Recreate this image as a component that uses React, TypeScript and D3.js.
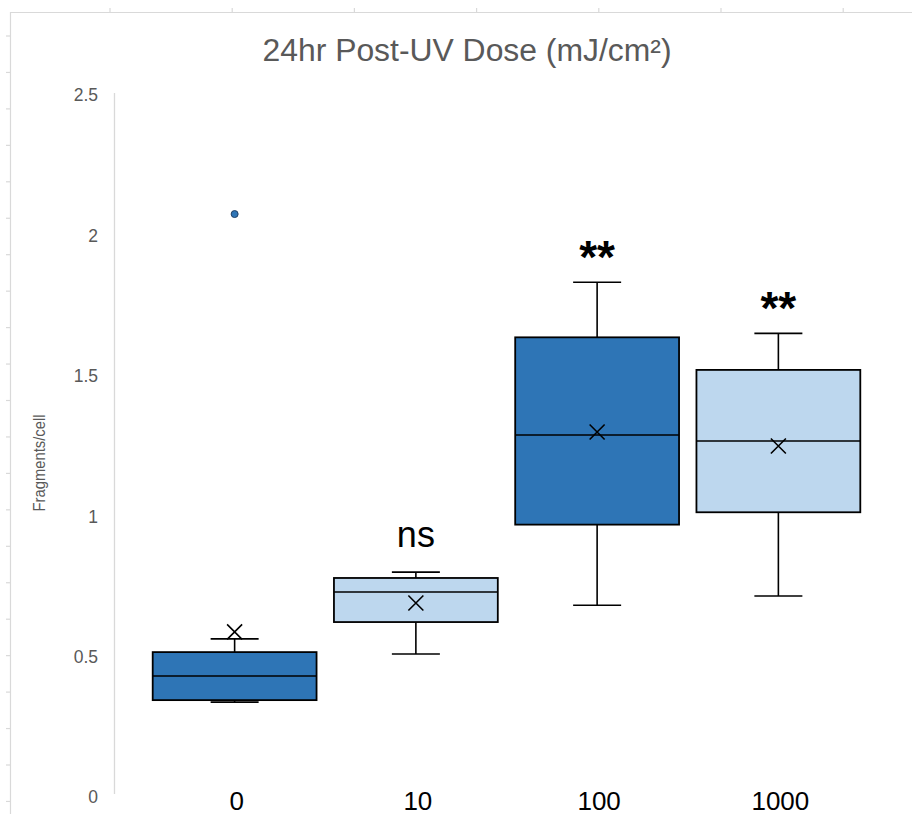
import React from "react";
import * as d3 from "d3";

// Dose groups (mJ/cm²) and their five-number summaries of fragments per cell
const categories = ["0", "10", "100", "1000"];
const minValues = [0.338, 0.509, 0.683, 0.716];
const q1Values = [0.345, 0.623, 0.97, 1.014];
const medianValues = [0.431, 0.73, 1.289, 1.268];
const q3Values = [0.516, 0.78, 1.637, 1.521];
const maxValues = [0.563, 0.801, 1.833, 1.651];
const meanValues = [0.588, 0.691, 1.3, 1.25];
const outlierCategories = ["0"];
const outlierValues = [2.076];
const significance = ["", "ns", "**", "**"];
const yTicks = [0, 0.5, 1, 1.5, 2, 2.5];

const DARK = "#2E75B6";
const LIGHT = "#BDD7EE";
const boxFills = [DARK, LIGHT, DARK, LIGHT];

const W = 912;
const H = 814;

export default function App() {
  const x = d3
    .scaleBand<string>()
    .domain(categories)
    .range([144, 869])
    .paddingInner(0.096)
    .paddingOuter(0.048);
  const y = d3.scaleLinear().domain([0, 2.5]).range([797, 95]);
  const bw = x.bandwidth();
  const capHalf = 24;
  const xs = 7.5;

  // spreadsheet-style ruler marks along the top and left edges
  const rulerTop = d3.range(110, W, 122.2);
  const rulerLeft = d3.range(36, H, 36.45);

  return (
    <svg
      width={W}
      height={H}
      style={{ position: "absolute", left: 0, top: 0, background: "#fff" }}
      fontFamily="'Liberation Sans', Arial, sans-serif"
    >
      <rect width={W} height={H} fill="#fff" />
      {/* ruler frame */}
      <g stroke="#d9d9d9" strokeWidth={1.2}>
        <line x1={10} y1={12.5} x2={W} y2={12.5} />
        <line x1={10.5} y1={12} x2={10.5} y2={H} />
        {rulerTop.map((t) => (
          <line key={"rt" + t} x1={t} y1={8} x2={t} y2={12} />
        ))}
        {rulerLeft.map((t) => (
          <line key={"rl" + t} x1={6} y1={t} x2={10} y2={t} />
        ))}
      </g>

      {/* title */}
      <text
        x={467}
        y={61}
        textAnchor="middle"
        fontSize={31}
        fill="#595959"
        fontWeight={300}
        textLength={409}
        lengthAdjust="spacingAndGlyphs"
      >
        24hr Post-UV Dose (mJ/cm²)
      </text>

      {/* y axis */}
      <line x1={114.5} y1={93} x2={114.5} y2={794} stroke="#d9d9d9" strokeWidth={1.3} />
      {yTicks.map((t) => (
        <text
          key={"yt" + t}
          x={98}
          y={y(t)}
          dy="0.36em"
          textAnchor="end"
          fontSize={17.5}
          fill="#595959"
        >
          {t}
        </text>
      ))}
      <text
        transform={`translate(45,${463}) rotate(-90)`}
        textAnchor="middle"
        fontSize={16}
        fill="#595959"
        textLength={97}
        lengthAdjust="spacingAndGlyphs"
      >
        Fragments/cell
      </text>

      {/* x labels */}
      {categories.map((c) => (
        <text
          key={"xl" + c}
          x={x(c)! + bw / 2 + 2}
          y={809.5}
          textAnchor="middle"
          fontSize={26}
          fill="#000"
        >
          {c}
        </text>
      ))}

      {/* boxes */}
      {categories.map((c, i) => {
        const cx = x(c)! + bw / 2;
        const x0 = x(c)!;
        return (
          <g key={"box" + c} stroke="#000" strokeWidth={1.6}>
            <line x1={cx} x2={cx} y1={y(maxValues[i])} y2={y(q3Values[i])} />
            <line x1={cx} x2={cx} y1={y(q1Values[i])} y2={y(minValues[i])} />
            <line x1={cx - capHalf} x2={cx + capHalf} y1={y(maxValues[i])} y2={y(maxValues[i])} />
            <line x1={cx - capHalf} x2={cx + capHalf} y1={y(minValues[i])} y2={y(minValues[i])} />
            <rect
              x={x0}
              y={y(q3Values[i])}
              width={bw}
              height={y(q1Values[i]) - y(q3Values[i])}
              fill={boxFills[i]}
              strokeWidth={1.8}
            />
            <line x1={x0} x2={x0 + bw} y1={y(medianValues[i])} y2={y(medianValues[i])} />
            <path
              d={`M${cx - xs},${y(meanValues[i]) - xs}L${cx + xs},${y(meanValues[i]) + xs}M${cx - xs},${
                y(meanValues[i]) + xs
              }L${cx + xs},${y(meanValues[i]) - xs}`}
              fill="none"
            />
          </g>
        );
      })}

      {/* outliers */}
      {outlierValues.map((v, i) => (
        <circle
          key={"o" + i}
          cx={x(outlierCategories[i])! + bw / 2}
          cy={y(v)}
          r={3.5}
          fill={DARK}
          stroke="#1f3f66"
          strokeWidth={1}
        />
      ))}

      {/* significance labels */}
      {categories.map((c, i) =>
        significance[i] ? (
          <text
            key={"s" + c}
            x={x(c)! + bw / 2}
            y={y(maxValues[i]) - (significance[i] === "ns" ? 25 : 9)}
            textAnchor="middle"
            fontSize={significance[i] === "ns" ? 36 : 46}
            fontWeight={significance[i] === "ns" ? 400 : 700}
            fill="#000"
          >
            {significance[i]}
          </text>
        ) : null
      )}
    </svg>
  );
}
